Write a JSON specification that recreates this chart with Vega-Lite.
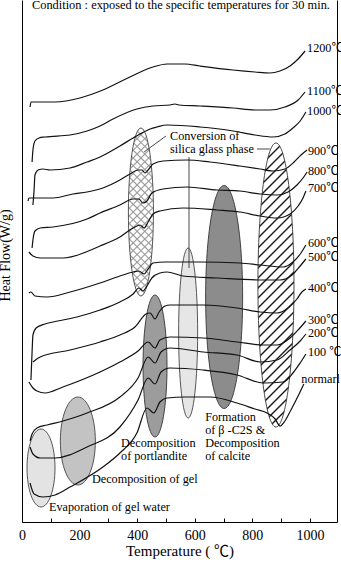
{
"$schema":"https://vega.github.io/schema/vega-lite/v6.json",
"width":315,"height":522,"autosize":"none",
"padding":{"left":22,"top":0,"right":4,"bottom":42},
"background":"white",
"config":{"view":{"stroke":null},"font":"Liberation Serif"},
"datasets":{
"regions":[{"region":"evap","T":66,"hf":54},{"region":"gel","T":194,"hf":81},{"region":"portlandite","T":462,"hf":156},{"region":"cross","T":413,"hf":310},{"region":"dotted","T":577,"hf":189},{"region":"calcite","T":702,"hf":225},{"region":"hatched","T":882,"hf":237}],
"leaders":[{"id":"conv","T":500,"hf":386},{"id":"conv","T":424,"hf":370},{"id":"phase","T":816,"hf":373},{"id":"phase","T":861,"hf":373},{"id":"vert","T":580,"hf":365},{"id":"vert","T":580,"hf":254}],
"labels":[{"label":"1200℃","T":990,"hf":474},{"label":"1100℃","T":990,"hf":431},{"label":"1000℃","T":990,"hf":411},{"label":"900℃","T":993,"hf":371},{"label":"800℃","T":993,"hf":351},{"label":"700℃","T":993,"hf":334},{"label":"600℃","T":993,"hf":279},{"label":"500℃","T":993,"hf":265},{"label":"400℃","T":993,"hf":234},{"label":"300℃","T":993,"hf":202},{"label":"200℃","T":993,"hf":189},{"label":"100 ℃","T":993,"hf":170},{"label":"normarl","T":970,"hf":143}],
"notes":[{"text":"Conversion of","T":514,"hf":386},{"text":"silica glass phase","T":514,"hf":373},{"text":"Formation","T":636,"hf":105},{"text":"of β -C2S &","T":636,"hf":92},{"text":"Decomposition","T":636,"hf":79},{"text":"of calcite","T":636,"hf":66},{"text":"Decomposition","T":344,"hf":79},{"text":"of portlandite","T":344,"hf":66},{"text":"Decomposition of gel","T":243,"hf":43},{"text":"Evaporation of gel water","T":94,"hf":15}],
"curves":[
{"s":"1200","T":28,"hf":415},{"s":"1200","T":31,"hf":420},{"s":"1200","T":63,"hf":420},{"s":"1200","T":115,"hf":420},{"s":"1200","T":201,"hf":424},{"s":"1200","T":281,"hf":432},{"s":"1200","T":375,"hf":445},{"s":"1200","T":455,"hf":455},{"s":"1200","T":504,"hf":458},{"s":"1200","T":566,"hf":458},{"s":"1200","T":618,"hf":456},{"s":"1200","T":733,"hf":452},{"s":"1200","T":809,"hf":450},{"s":"1200","T":861,"hf":449},{"s":"1200","T":896,"hf":451},{"s":"1200","T":931,"hf":456},{"s":"1200","T":959,"hf":463},{"s":"1200","T":983,"hf":471},
{"s":"1100","T":35,"hf":360},{"s":"1100","T":38,"hf":372},{"s":"1100","T":45,"hf":381},{"s":"1100","T":59,"hf":384},{"s":"1100","T":80,"hf":385},{"s":"1100","T":167,"hf":387},{"s":"1100","T":226,"hf":391},{"s":"1100","T":271,"hf":396},{"s":"1100","T":316,"hf":403},{"s":"1100","T":399,"hf":413},{"s":"1100","T":455,"hf":416},{"s":"1100","T":514,"hf":417},{"s":"1100","T":531,"hf":418},{"s":"1100","T":545,"hf":417},{"s":"1100","T":618,"hf":416},{"s":"1100","T":733,"hf":414},{"s":"1100","T":809,"hf":412},{"s":"1100","T":861,"hf":412},{"s":"1100","T":913,"hf":415},{"s":"1100","T":959,"hf":422},{"s":"1100","T":983,"hf":430},
{"s":"1000","T":38,"hf":317},{"s":"1000","T":42,"hf":332},{"s":"1000","T":45,"hf":347},{"s":"1000","T":56,"hf":352},{"s":"1000","T":73,"hf":353},{"s":"1000","T":97,"hf":352},{"s":"1000","T":167,"hf":354},{"s":"1000","T":226,"hf":360},{"s":"1000","T":271,"hf":365},{"s":"1000","T":340,"hf":376},{"s":"1000","T":386,"hf":384},{"s":"1000","T":410,"hf":388},{"s":"1000","T":445,"hf":393},{"s":"1000","T":469,"hf":395},{"s":"1000","T":504,"hf":397},{"s":"1000","T":618,"hf":395},{"s":"1000","T":733,"hf":391},{"s":"1000","T":809,"hf":387},{"s":"1000","T":872,"hf":385},{"s":"1000","T":913,"hf":388},{"s":"1000","T":941,"hf":394},{"s":"1000","T":966,"hf":401},{"s":"1000","T":986,"hf":410},
{"s":"900","T":21,"hf":321},{"s":"900","T":24,"hf":324},{"s":"900","T":38,"hf":324},{"s":"900","T":108,"hf":324},{"s":"900","T":177,"hf":328},{"s":"900","T":226,"hf":330},{"s":"900","T":281,"hf":334},{"s":"900","T":340,"hf":342},{"s":"900","T":375,"hf":348},{"s":"900","T":403,"hf":352},{"s":"900","T":417,"hf":352},{"s":"900","T":427,"hf":349},{"s":"900","T":438,"hf":352},{"s":"900","T":455,"hf":358},{"s":"900","T":490,"hf":361},{"s":"900","T":573,"hf":362},{"s":"900","T":653,"hf":360},{"s":"900","T":757,"hf":356},{"s":"900","T":827,"hf":353},{"s":"900","T":872,"hf":351},{"s":"900","T":913,"hf":353},{"s":"900","T":945,"hf":360},{"s":"900","T":969,"hf":367},{"s":"900","T":990,"hf":372},
{"s":"800","T":35,"hf":274},{"s":"800","T":38,"hf":282},{"s":"800","T":45,"hf":291},{"s":"800","T":63,"hf":294},{"s":"800","T":108,"hf":295},{"s":"800","T":226,"hf":303},{"s":"800","T":271,"hf":309},{"s":"800","T":340,"hf":317},{"s":"800","T":386,"hf":323},{"s":"800","T":406,"hf":323},{"s":"800","T":420,"hf":319},{"s":"800","T":434,"hf":321},{"s":"800","T":451,"hf":329},{"s":"800","T":490,"hf":333},{"s":"800","T":573,"hf":335},{"s":"800","T":677,"hf":332},{"s":"800","T":757,"hf":331},{"s":"800","T":827,"hf":328},{"s":"800","T":886,"hf":327},{"s":"800","T":924,"hf":330},{"s":"800","T":955,"hf":337},{"s":"800","T":976,"hf":344},{"s":"800","T":990,"hf":350},
{"s":"700","T":24,"hf":270},{"s":"700","T":38,"hf":266},{"s":"700","T":63,"hf":264},{"s":"700","T":142,"hf":264},{"s":"700","T":271,"hf":276},{"s":"700","T":340,"hf":285},{"s":"700","T":386,"hf":294},{"s":"700","T":410,"hf":297},{"s":"700","T":424,"hf":294},{"s":"700","T":438,"hf":300},{"s":"700","T":455,"hf":308},{"s":"700","T":479,"hf":311},{"s":"700","T":559,"hf":314},{"s":"700","T":677,"hf":312},{"s":"700","T":757,"hf":310},{"s":"700","T":827,"hf":306},{"s":"700","T":886,"hf":304},{"s":"700","T":931,"hf":308},{"s":"700","T":959,"hf":316},{"s":"700","T":976,"hf":324},{"s":"700","T":986,"hf":331},
{"s":"600","T":24,"hf":229},{"s":"600","T":31,"hf":230},{"s":"600","T":45,"hf":226},{"s":"600","T":87,"hf":225},{"s":"600","T":167,"hf":230},{"s":"600","T":271,"hf":239},{"s":"600","T":340,"hf":246},{"s":"600","T":386,"hf":250},{"s":"600","T":406,"hf":251},{"s":"600","T":424,"hf":248},{"s":"600","T":438,"hf":253},{"s":"600","T":455,"hf":259},{"s":"600","T":497,"hf":260},{"s":"600","T":618,"hf":260},{"s":"600","T":757,"hf":259},{"s":"600","T":827,"hf":257},{"s":"600","T":907,"hf":255},{"s":"600","T":941,"hf":260},{"s":"600","T":969,"hf":269},{"s":"600","T":986,"hf":277},
{"s":"500","T":31,"hf":142},{"s":"500","T":35,"hf":170},{"s":"500","T":38,"hf":187},{"s":"500","T":49,"hf":194},{"s":"500","T":80,"hf":198},{"s":"500","T":108,"hf":200},{"s":"500","T":191,"hf":205},{"s":"500","T":271,"hf":212},{"s":"500","T":340,"hf":220},{"s":"500","T":386,"hf":228},{"s":"500","T":406,"hf":234},{"s":"500","T":420,"hf":231},{"s":"500","T":434,"hf":236},{"s":"500","T":451,"hf":244},{"s":"500","T":479,"hf":249},{"s":"500","T":504,"hf":250},{"s":"500","T":559,"hf":246},{"s":"500","T":677,"hf":244},{"s":"500","T":827,"hf":242},{"s":"500","T":896,"hf":242},{"s":"500","T":938,"hf":247},{"s":"500","T":966,"hf":256},{"s":"500","T":986,"hf":263},
{"s":"400","T":38,"hf":160},{"s":"400","T":63,"hf":165},{"s":"400","T":167,"hf":172},{"s":"400","T":271,"hf":180},{"s":"400","T":340,"hf":187},{"s":"400","T":392,"hf":195},{"s":"400","T":431,"hf":208},{"s":"400","T":445,"hf":209},{"s":"400","T":462,"hf":203},{"s":"400","T":476,"hf":210},{"s":"400","T":497,"hf":216},{"s":"400","T":514,"hf":217},{"s":"400","T":629,"hf":217},{"s":"400","T":747,"hf":214},{"s":"400","T":827,"hf":210},{"s":"400","T":886,"hf":209},{"s":"400","T":924,"hf":214},{"s":"400","T":955,"hf":223},{"s":"400","T":972,"hf":230},{"s":"400","T":986,"hf":233},
{"s":"300","T":24,"hf":140},{"s":"300","T":38,"hf":134},{"s":"300","T":52,"hf":131},{"s":"300","T":80,"hf":129},{"s":"300","T":142,"hf":135},{"s":"300","T":271,"hf":150},{"s":"300","T":340,"hf":160},{"s":"300","T":403,"hf":171},{"s":"300","T":438,"hf":180},{"s":"300","T":462,"hf":174},{"s":"300","T":479,"hf":182},{"s":"300","T":514,"hf":185},{"s":"300","T":629,"hf":184},{"s":"300","T":747,"hf":180},{"s":"300","T":837,"hf":177},{"s":"300","T":886,"hf":177},{"s":"300","T":931,"hf":184},{"s":"300","T":962,"hf":193},{"s":"300","T":986,"hf":201},
{"s":"200","T":28,"hf":81},{"s":"200","T":35,"hf":88},{"s":"200","T":52,"hf":94},{"s":"200","T":87,"hf":97},{"s":"200","T":142,"hf":101},{"s":"200","T":226,"hf":109},{"s":"200","T":340,"hf":125},{"s":"200","T":403,"hf":144},{"s":"200","T":438,"hf":165},{"s":"200","T":462,"hf":159},{"s":"200","T":483,"hf":170},{"s":"200","T":514,"hf":174},{"s":"200","T":629,"hf":170},{"s":"200","T":747,"hf":167},{"s":"200","T":827,"hf":160},{"s":"200","T":886,"hf":162},{"s":"200","T":931,"hf":172},{"s":"200","T":966,"hf":181},{"s":"200","T":986,"hf":188},
{"s":"100","T":28,"hf":75},{"s":"100","T":38,"hf":68},{"s":"100","T":63,"hf":64},{"s":"100","T":115,"hf":64},{"s":"100","T":226,"hf":75},{"s":"100","T":340,"hf":95},{"s":"100","T":403,"hf":122},{"s":"100","T":438,"hf":144},{"s":"100","T":462,"hf":138},{"s":"100","T":483,"hf":150},{"s":"100","T":514,"hf":154},{"s":"100","T":629,"hf":152},{"s":"100","T":747,"hf":147},{"s":"100","T":837,"hf":139},{"s":"100","T":907,"hf":140},{"s":"100","T":941,"hf":149},{"s":"100","T":966,"hf":159},{"s":"100","T":986,"hf":168},
{"s":"normal","T":28,"hf":39},{"s":"normal","T":42,"hf":28},{"s":"normal","T":73,"hf":25},{"s":"normal","T":115,"hf":27},{"s":"normal","T":167,"hf":35},{"s":"normal","T":281,"hf":55},{"s":"normal","T":340,"hf":69},{"s":"normal","T":399,"hf":89},{"s":"normal","T":434,"hf":114},{"s":"normal","T":458,"hf":109},{"s":"normal","T":479,"hf":120},{"s":"normal","T":504,"hf":124},{"s":"normal","T":566,"hf":125},{"s":"normal","T":653,"hf":125},{"s":"normal","T":747,"hf":119},{"s":"normal","T":809,"hf":113},{"s":"normal","T":851,"hf":109},{"s":"normal","T":879,"hf":103},{"s":"normal","T":896,"hf":96},{"s":"normal","T":913,"hf":101},{"s":"normal","T":934,"hf":112},{"s":"normal","T":959,"hf":126},{"s":"normal","T":979,"hf":138}
]},
"encoding":{
"x":{"field":"T","type":"quantitative","scale":{"domain":[0,1094],"nice":false,"zero":false},
"axis":{"values":[0,100,200,300,400,500,600,700,800,900,1000],"format":"d","labelExpr":"datum.value % 200 === 0 ? datum.label : ''","tickSize":-4,"tickColor":"#000","domainColor":"#000","grid":false,"labelFlush":false,"labelOverlap":false,"labelFont":"Liberation Serif","labelFontSize":14,"labelColor":"#000","labelPadding":10,"title":"Temperature ( ℃)","titleFont":"Liberation Serif, Noto Sans CJK JP","titleFontSize":15,"titleFontWeight":"normal","titleColor":"#000","titlePadding":1}},
"y":{"field":"hf","type":"quantitative","scale":{"domain":[0,522],"nice":false,"zero":false},"axis":null}
},
"layer":[
{"data":{"name":"regions"},"transform":[{"filter":"datum.region === 'hatched'"}],
"encoding":{"y":{"field":"hf","type":"quantitative","scale":{"domain":[0,522],"nice":false,"zero":false},"axis":{"orient":"left","domain":true,"domainColor":"#000","ticks":false,"labels":false,"grid":false,"title":"Heat Flow(W/g)","titleFont":"Liberation Serif","titleFontSize":14,"titleFontWeight":"normal","titleColor":"#000","titleX":-17,"titleY":255,"titleAngle":-90,"titleBaseline":"middle","titleAlign":"center"}}},
"mark":{"type":"point","shape":"M 0 -1 A 0.127 1 0 0 1 0.127 0 A 0.127 1 0 0 1 0 1 A 0.127 1 0 0 1 -0.127 0 A 0.127 1 0 0 1 0 -1 Z","size":80656,"filled":true,"opacity":1,"stroke":"#333","strokeWidth":0.9,
"fill":{"gradient":"linear","x1":0,"y1":0,"x2":0.141,"y2":1.109,"stops":[
{"offset":0,"color":"#fff"},
{"offset":0.0096,"color":"#fff"},{"offset":0.0156,"color":"#111"},{"offset":0.0216,"color":"#fff"},
{"offset":0.0409,"color":"#fff"},{"offset":0.0469,"color":"#111"},{"offset":0.0529,"color":"#fff"},
{"offset":0.0721,"color":"#fff"},{"offset":0.0781,"color":"#111"},{"offset":0.0841,"color":"#fff"},
{"offset":0.1034,"color":"#fff"},{"offset":0.1094,"color":"#111"},{"offset":0.1154,"color":"#fff"},
{"offset":0.1346,"color":"#fff"},{"offset":0.1406,"color":"#111"},{"offset":0.1466,"color":"#fff"},
{"offset":0.1659,"color":"#fff"},{"offset":0.1719,"color":"#111"},{"offset":0.1779,"color":"#fff"},
{"offset":0.1971,"color":"#fff"},{"offset":0.2031,"color":"#111"},{"offset":0.2091,"color":"#fff"},
{"offset":0.2284,"color":"#fff"},{"offset":0.2344,"color":"#111"},{"offset":0.2404,"color":"#fff"},
{"offset":0.2596,"color":"#fff"},{"offset":0.2656,"color":"#111"},{"offset":0.2716,"color":"#fff"},
{"offset":0.2909,"color":"#fff"},{"offset":0.2969,"color":"#111"},{"offset":0.3029,"color":"#fff"},
{"offset":0.3221,"color":"#fff"},{"offset":0.3281,"color":"#111"},{"offset":0.3341,"color":"#fff"},
{"offset":0.3534,"color":"#fff"},{"offset":0.3594,"color":"#111"},{"offset":0.3654,"color":"#fff"},
{"offset":0.3846,"color":"#fff"},{"offset":0.3906,"color":"#111"},{"offset":0.3966,"color":"#fff"},
{"offset":0.4159,"color":"#fff"},{"offset":0.4219,"color":"#111"},{"offset":0.4279,"color":"#fff"},
{"offset":0.4471,"color":"#fff"},{"offset":0.4531,"color":"#111"},{"offset":0.4591,"color":"#fff"},
{"offset":0.4784,"color":"#fff"},{"offset":0.4844,"color":"#111"},{"offset":0.4904,"color":"#fff"},
{"offset":0.5096,"color":"#fff"},{"offset":0.5156,"color":"#111"},{"offset":0.5216,"color":"#fff"},
{"offset":0.5409,"color":"#fff"},{"offset":0.5469,"color":"#111"},{"offset":0.5529,"color":"#fff"},
{"offset":0.5721,"color":"#fff"},{"offset":0.5781,"color":"#111"},{"offset":0.5841,"color":"#fff"},
{"offset":0.6034,"color":"#fff"},{"offset":0.6094,"color":"#111"},{"offset":0.6154,"color":"#fff"},
{"offset":0.6346,"color":"#fff"},{"offset":0.6406,"color":"#111"},{"offset":0.6466,"color":"#fff"},
{"offset":0.6659,"color":"#fff"},{"offset":0.6719,"color":"#111"},{"offset":0.6779,"color":"#fff"},
{"offset":0.6971,"color":"#fff"},{"offset":0.7031,"color":"#111"},{"offset":0.7091,"color":"#fff"},
{"offset":0.7284,"color":"#fff"},{"offset":0.7344,"color":"#111"},{"offset":0.7404,"color":"#fff"},
{"offset":0.7596,"color":"#fff"},{"offset":0.7656,"color":"#111"},{"offset":0.7716,"color":"#fff"},
{"offset":0.7909,"color":"#fff"},{"offset":0.7969,"color":"#111"},{"offset":0.8029,"color":"#fff"},
{"offset":0.8221,"color":"#fff"},{"offset":0.8281,"color":"#111"},{"offset":0.8341,"color":"#fff"},
{"offset":0.8534,"color":"#fff"},{"offset":0.8594,"color":"#111"},{"offset":0.8654,"color":"#fff"},
{"offset":0.8846,"color":"#fff"},{"offset":0.8906,"color":"#111"},{"offset":0.8966,"color":"#fff"},
{"offset":0.9159,"color":"#fff"},{"offset":0.9219,"color":"#111"},{"offset":0.9279,"color":"#fff"},
{"offset":0.9471,"color":"#fff"},{"offset":0.9531,"color":"#111"},{"offset":0.9591,"color":"#fff"},
{"offset":0.9784,"color":"#fff"},{"offset":0.9844,"color":"#111"},{"offset":0.9904,"color":"#fff"},
{"offset":1,"color":"#fff"}]}}},
{"data":{"name":"regions"},"transform":[{"filter":"datum.region === 'calcite'"}],
"mark":{"type":"point","shape":"M 0 -1 A 0.166 1 0 0 1 0.166 0 A 0.166 1 0 0 1 0 1 A 0.166 1 0 0 1 -0.166 0 A 0.166 1 0 0 1 0 -1 Z","size":49729,"filled":true,"opacity":1,"fill":"#8c8c8c","stroke":"#333","strokeWidth":0.9}},
{"data":{"name":"regions"},"transform":[{"filter":"datum.region === 'dotted'"}],
"mark":{"type":"point","shape":"M 0 -1 A 0.112 1 0 0 1 0.112 0 A 0.112 1 0 0 1 0 1 A 0.112 1 0 0 1 -0.112 0 A 0.112 1 0 0 1 0 -1 Z","size":28900,"filled":true,"opacity":1,"fill":"#e6e6e6","stroke":"#444","strokeWidth":0.9}},
{"data":{"name":"regions"},"transform":[{"filter":"datum.region === 'cross'"}],
"mark":{"type":"point","shape":"M 0 -1 A 0.149 1 0 0 1 0.149 0 A 0.149 1 0 0 1 0 1 A 0.149 1 0 0 1 -0.149 0 A 0.149 1 0 0 1 0 -1 Z","size":28224,"filled":true,"opacity":1,"strokeWidth":0,
"fill":{"gradient":"linear","x1":0,"y1":0,"x2":0.167,"y2":1.124,"stops":[
{"offset":0,"color":"#fff"},
{"offset":0.012,"color":"#fff"},{"offset":0.02,"color":"#999"},{"offset":0.028,"color":"#fff"},
{"offset":0.052,"color":"#fff"},{"offset":0.06,"color":"#999"},{"offset":0.068,"color":"#fff"},
{"offset":0.092,"color":"#fff"},{"offset":0.10,"color":"#999"},{"offset":0.108,"color":"#fff"},
{"offset":0.132,"color":"#fff"},{"offset":0.14,"color":"#999"},{"offset":0.148,"color":"#fff"},
{"offset":0.172,"color":"#fff"},{"offset":0.18,"color":"#999"},{"offset":0.188,"color":"#fff"},
{"offset":0.212,"color":"#fff"},{"offset":0.22,"color":"#999"},{"offset":0.228,"color":"#fff"},
{"offset":0.252,"color":"#fff"},{"offset":0.26,"color":"#999"},{"offset":0.268,"color":"#fff"},
{"offset":0.292,"color":"#fff"},{"offset":0.30,"color":"#999"},{"offset":0.308,"color":"#fff"},
{"offset":0.332,"color":"#fff"},{"offset":0.34,"color":"#999"},{"offset":0.348,"color":"#fff"},
{"offset":0.372,"color":"#fff"},{"offset":0.38,"color":"#999"},{"offset":0.388,"color":"#fff"},
{"offset":0.412,"color":"#fff"},{"offset":0.42,"color":"#999"},{"offset":0.428,"color":"#fff"},
{"offset":0.452,"color":"#fff"},{"offset":0.46,"color":"#999"},{"offset":0.468,"color":"#fff"},
{"offset":0.492,"color":"#fff"},{"offset":0.50,"color":"#999"},{"offset":0.508,"color":"#fff"},
{"offset":0.532,"color":"#fff"},{"offset":0.54,"color":"#999"},{"offset":0.548,"color":"#fff"},
{"offset":0.572,"color":"#fff"},{"offset":0.58,"color":"#999"},{"offset":0.588,"color":"#fff"},
{"offset":0.612,"color":"#fff"},{"offset":0.62,"color":"#999"},{"offset":0.628,"color":"#fff"},
{"offset":0.652,"color":"#fff"},{"offset":0.66,"color":"#999"},{"offset":0.668,"color":"#fff"},
{"offset":0.692,"color":"#fff"},{"offset":0.70,"color":"#999"},{"offset":0.708,"color":"#fff"},
{"offset":0.732,"color":"#fff"},{"offset":0.74,"color":"#999"},{"offset":0.748,"color":"#fff"},
{"offset":0.772,"color":"#fff"},{"offset":0.78,"color":"#999"},{"offset":0.788,"color":"#fff"},
{"offset":0.812,"color":"#fff"},{"offset":0.82,"color":"#999"},{"offset":0.828,"color":"#fff"},
{"offset":0.852,"color":"#fff"},{"offset":0.86,"color":"#999"},{"offset":0.868,"color":"#fff"},
{"offset":0.892,"color":"#fff"},{"offset":0.90,"color":"#999"},{"offset":0.908,"color":"#fff"},
{"offset":0.932,"color":"#fff"},{"offset":0.94,"color":"#999"},{"offset":0.948,"color":"#fff"},
{"offset":0.972,"color":"#fff"},{"offset":0.98,"color":"#999"},{"offset":0.988,"color":"#fff"},
{"offset":1,"color":"#fff"}]}}},
{"data":{"name":"regions"},"transform":[{"filter":"datum.region === 'cross'"}],
"mark":{"type":"point","shape":"M 0 -1 A 0.149 1 0 0 1 0.149 0 A 0.149 1 0 0 1 0 1 A 0.149 1 0 0 1 -0.149 0 A 0.149 1 0 0 1 0 -1 Z","size":28224,"filled":true,"opacity":1,"stroke":"#444","strokeWidth":0.9,
"fill":{"gradient":"linear","x1":0,"y1":1,"x2":0.167,"y2":-0.124,"stops":[
{"offset":0,"color":"rgba(153,153,153,0)"},
{"offset":0.012,"color":"rgba(153,153,153,0)"},{"offset":0.02,"color":"#999"},{"offset":0.028,"color":"rgba(153,153,153,0)"},
{"offset":0.052,"color":"rgba(153,153,153,0)"},{"offset":0.06,"color":"#999"},{"offset":0.068,"color":"rgba(153,153,153,0)"},
{"offset":0.092,"color":"rgba(153,153,153,0)"},{"offset":0.10,"color":"#999"},{"offset":0.108,"color":"rgba(153,153,153,0)"},
{"offset":0.132,"color":"rgba(153,153,153,0)"},{"offset":0.14,"color":"#999"},{"offset":0.148,"color":"rgba(153,153,153,0)"},
{"offset":0.172,"color":"rgba(153,153,153,0)"},{"offset":0.18,"color":"#999"},{"offset":0.188,"color":"rgba(153,153,153,0)"},
{"offset":0.212,"color":"rgba(153,153,153,0)"},{"offset":0.22,"color":"#999"},{"offset":0.228,"color":"rgba(153,153,153,0)"},
{"offset":0.252,"color":"rgba(153,153,153,0)"},{"offset":0.26,"color":"#999"},{"offset":0.268,"color":"rgba(153,153,153,0)"},
{"offset":0.292,"color":"rgba(153,153,153,0)"},{"offset":0.30,"color":"#999"},{"offset":0.308,"color":"rgba(153,153,153,0)"},
{"offset":0.332,"color":"rgba(153,153,153,0)"},{"offset":0.34,"color":"#999"},{"offset":0.348,"color":"rgba(153,153,153,0)"},
{"offset":0.372,"color":"rgba(153,153,153,0)"},{"offset":0.38,"color":"#999"},{"offset":0.388,"color":"rgba(153,153,153,0)"},
{"offset":0.412,"color":"rgba(153,153,153,0)"},{"offset":0.42,"color":"#999"},{"offset":0.428,"color":"rgba(153,153,153,0)"},
{"offset":0.452,"color":"rgba(153,153,153,0)"},{"offset":0.46,"color":"#999"},{"offset":0.468,"color":"rgba(153,153,153,0)"},
{"offset":0.492,"color":"rgba(153,153,153,0)"},{"offset":0.50,"color":"#999"},{"offset":0.508,"color":"rgba(153,153,153,0)"},
{"offset":0.532,"color":"rgba(153,153,153,0)"},{"offset":0.54,"color":"#999"},{"offset":0.548,"color":"rgba(153,153,153,0)"},
{"offset":0.572,"color":"rgba(153,153,153,0)"},{"offset":0.58,"color":"#999"},{"offset":0.588,"color":"rgba(153,153,153,0)"},
{"offset":0.612,"color":"rgba(153,153,153,0)"},{"offset":0.62,"color":"#999"},{"offset":0.628,"color":"rgba(153,153,153,0)"},
{"offset":0.652,"color":"rgba(153,153,153,0)"},{"offset":0.66,"color":"#999"},{"offset":0.668,"color":"rgba(153,153,153,0)"},
{"offset":0.692,"color":"rgba(153,153,153,0)"},{"offset":0.70,"color":"#999"},{"offset":0.708,"color":"rgba(153,153,153,0)"},
{"offset":0.732,"color":"rgba(153,153,153,0)"},{"offset":0.74,"color":"#999"},{"offset":0.748,"color":"rgba(153,153,153,0)"},
{"offset":0.772,"color":"rgba(153,153,153,0)"},{"offset":0.78,"color":"#999"},{"offset":0.788,"color":"rgba(153,153,153,0)"},
{"offset":0.812,"color":"rgba(153,153,153,0)"},{"offset":0.82,"color":"#999"},{"offset":0.828,"color":"rgba(153,153,153,0)"},
{"offset":0.852,"color":"rgba(153,153,153,0)"},{"offset":0.86,"color":"#999"},{"offset":0.868,"color":"rgba(153,153,153,0)"},
{"offset":0.892,"color":"rgba(153,153,153,0)"},{"offset":0.90,"color":"#999"},{"offset":0.908,"color":"rgba(153,153,153,0)"},
{"offset":0.932,"color":"rgba(153,153,153,0)"},{"offset":0.94,"color":"#999"},{"offset":0.948,"color":"rgba(153,153,153,0)"},
{"offset":0.972,"color":"rgba(153,153,153,0)"},{"offset":0.98,"color":"#999"},{"offset":0.988,"color":"rgba(153,153,153,0)"},
{"offset":1,"color":"rgba(153,153,153,0)"}]}}},
{"data":{"name":"regions"},"transform":[{"filter":"datum.region === 'portlandite'"}],
"mark":{"type":"point","shape":"M 0 -1 A 0.169 1 0 0 1 0.169 0 A 0.169 1 0 0 1 0 1 A 0.169 1 0 0 1 -0.169 0 A 0.169 1 0 0 1 0 -1 Z","size":20164,"filled":true,"opacity":1,"fill":"#9c9c9c","stroke":"#333","strokeWidth":0.9}},
{"data":{"name":"regions"},"transform":[{"filter":"datum.region === 'gel'"}],
"mark":{"type":"point","shape":"M 0 -1 A 0.398 1 0 0 1 0.398 0 A 0.398 1 0 0 1 0 1 A 0.398 1 0 0 1 -0.398 0 A 0.398 1 0 0 1 0 -1 Z","size":7744,"filled":true,"opacity":1,"fill":"#c3c3c3","stroke":"#444","strokeWidth":0.9}},
{"data":{"name":"regions"},"transform":[{"filter":"datum.region === 'evap'"}],
"mark":{"type":"point","shape":"M 0 -1 A 0.359 1 0 0 1 0.359 0 A 0.359 1 0 0 1 0 1 A 0.359 1 0 0 1 -0.359 0 A 0.359 1 0 0 1 0 -1 Z","size":6084,"filled":true,"opacity":1,"fill":"#e3e3e3","stroke":"#444","strokeWidth":0.9}},
{"data":{"name":"leaders"},"mark":{"type":"line","color":"#333","strokeWidth":0.9},"encoding":{"detail":{"field":"id"},"order":{"value":null}}},
{"data":{"name":"curves"},"mark":{"type":"line","color":"#111","strokeWidth":1.2,"interpolate":"monotone"},
"encoding":{"detail":{"field":"s"},"order":{"value":null},
"y":{"field":"hf","type":"quantitative","scale":{"domain":[0,522],"nice":false,"zero":false},"axis":{"orient":"right","domain":true,"domainColor":"#000","ticks":false,"labels":false,"grid":false,"title":null}}}},
{"data":{"name":"labels"},"mark":{"type":"text","align":"left","baseline":"middle","font":"Liberation Serif, Noto Sans CJK JP","fontSize":12.2,"color":"#000"},"encoding":{"text":{"field":"label"}}},
{"data":{"name":"notes"},"mark":{"type":"text","align":"left","baseline":"middle","font":"Liberation Serif","fontSize":12.2,"color":"#000"},"encoding":{"text":{"field":"text"}}},
{"data":{"values":[{"text":"Condition : exposed to the specific temperatures for 30 min.","T":552,"hf":517}]},"mark":{"type":"text","align":"center","baseline":"middle","font":"Liberation Serif","fontSize":12.4,"color":"#000"},"encoding":{"text":{"field":"text"}}}
],
"resolve":{"axis":{"y":"independent"}}
}
